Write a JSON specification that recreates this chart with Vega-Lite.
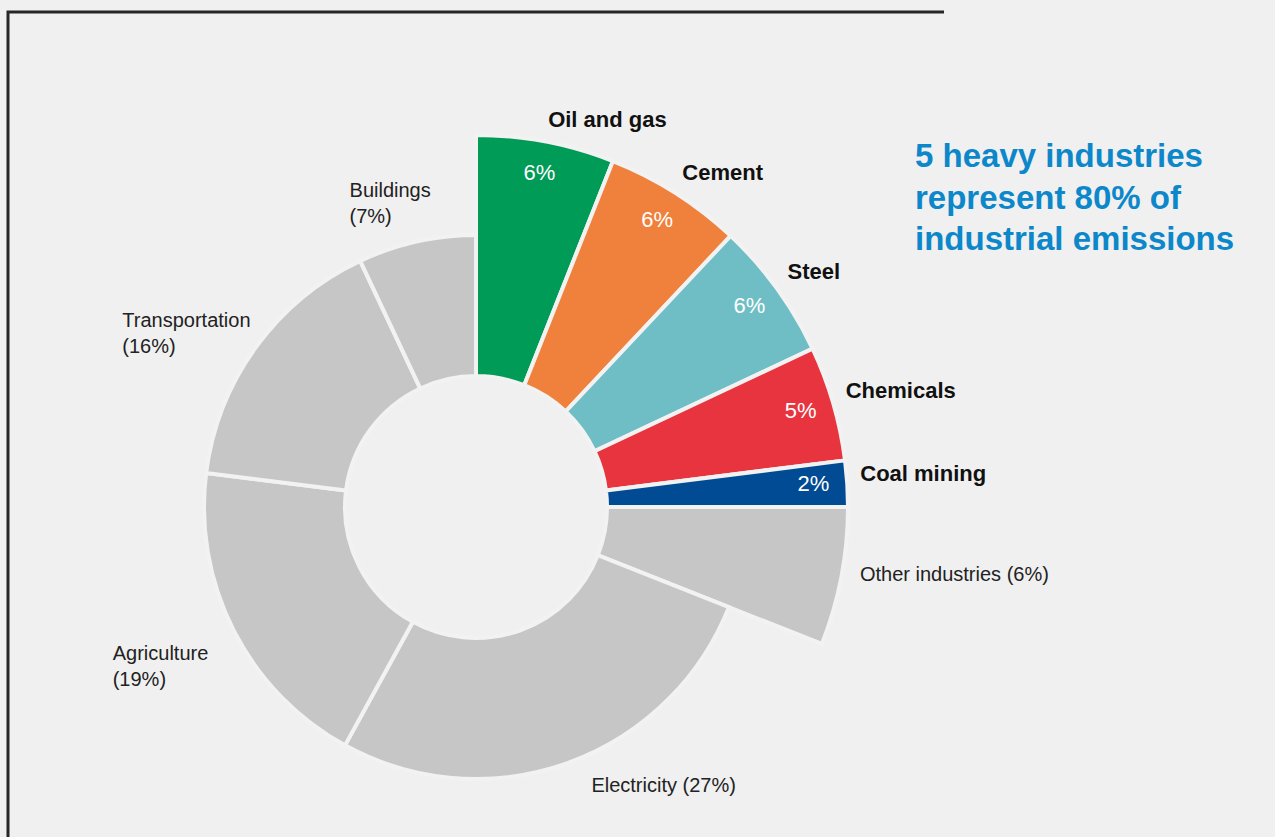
{
  "$schema": "https://vega.github.io/schema/vega-lite/v6.json",
  "width": 936,
  "height": 990,
  "autosize": {"type": "none"},
  "padding": {"left": 8, "top": 12, "right": 331, "bottom": 0},
  "background": "#f0f0f0",
  "view": {"stroke": "#262626", "strokeWidth": 3, "strokeDash": [936, 1926, 990]},
  "config": {
    "font": "Liberation Sans"
  },
  "title": {
    "text": ["5 heavy industries", "represent 80% of", "industrial emissions"],
    "orient": "top",
    "anchor": "start",
    "frame": "group",
    "offset": 0,
    "baseline": "top",
    "align": "left",
    "dx": 907,
    "dy": 245,
    "fontSize": 33,
    "fontWeight": "bold",
    "lineHeight": 41.5,
    "color": "#0b87ca",
    "font": "Liberation Sans"
  },
  "data": {
    "values": [
      {"name": "Oil and gas", "value": 6, "sector": "Industry", "heavy": true},
      {"name": "Cement", "value": 6, "sector": "Industry", "heavy": true},
      {"name": "Steel", "value": 6, "sector": "Industry", "heavy": true},
      {"name": "Chemicals", "value": 5, "sector": "Industry", "heavy": true},
      {"name": "Coal mining", "value": 2, "sector": "Industry", "heavy": true},
      {"name": "Other industries", "value": 6, "sector": "Industry", "heavy": false},
      {"name": "Electricity", "value": 27, "sector": "Other sectors", "heavy": false},
      {"name": "Agriculture", "value": 19, "sector": "Other sectors", "heavy": false},
      {"name": "Transportation", "value": 16, "sector": "Other sectors", "heavy": false},
      {"name": "Buildings", "value": 7, "sector": "Other sectors", "heavy": false}
    ]
  },
  "transform": [
    {"stack": "value", "groupby": [], "as": ["v0", "v1"]},
    {"calculate": "(datum.v0 + datum.v1) / 2", "as": "mid"},
    {"calculate": "datum.value + '%'", "as": "pct"},
    {"calculate": "datum.name + '\\n(' + datum.value + '%)'", "as": "label2"},
    {"calculate": "datum.name + ' (' + datum.value + '%)'", "as": "label1"}
  ],
  "layer": [
    {
      "mark": {"type": "arc", "stroke": "#f2f2f2", "strokeWidth": 4},
      "encoding": {
        "theta": {"field": "v0", "type": "quantitative", "scale": {"domain": [0, 100]}},
        "theta2": {"field": "v1"},
        "radius": {"field": "sector", "type": "nominal", "scale": {"type": "point", "domain": ["Other sectors", "Industry"], "range": [272, 372], "padding": 0}},
        "radius2": {"value": 131},
        "color": {
          "field": "name",
          "type": "nominal",
          "scale": {
            "domain": ["Oil and gas", "Cement", "Steel", "Chemicals", "Coal mining", "Other industries", "Electricity", "Agriculture", "Transportation", "Buildings"],
            "range": ["#009b57", "#f0813d", "#6fbec5", "#e8343f", "#004b93", "#c6c6c6", "#c6c6c6", "#c6c6c6", "#c6c6c6", "#c6c6c6"]
          },
          "legend": null
        }
      }
    },
    {
      "transform": [{"filter": "datum.heavy"}],
      "mark": {"type": "text", "radius": 338, "dy": -2, "fill": "#ffffff", "fontSize": 22, "align": "center", "baseline": "middle"},
      "encoding": {
        "theta": {"field": "mid", "type": "quantitative", "scale": {"domain": [0, 100]}},
        "text": {"field": "pct"}
      }
    },
    {
      "transform": [{"filter": "datum.heavy"}],
      "mark": {"type": "text", "radius": 385, "dy": -9, "fill": "#111111", "fontSize": 22, "fontWeight": "bold", "align": "left", "baseline": "middle"},
      "encoding": {
        "theta": {"field": "mid", "type": "quantitative", "scale": {"domain": [0, 100]}},
        "text": {"field": "name"}
      }
    },
    {
      "transform": [{"filter": "datum.name == 'Buildings'"}],
      "mark": {"type": "text", "radius": 300, "dx": -61, "dy": -23, "fill": "#222222", "fontSize": 20, "lineHeight": 26, "lineBreak": "\n", "align": "left", "baseline": "middle"},
      "encoding": {
        "theta": {"field": "mid", "type": "quantitative", "scale": {"domain": [0, 100]}},
        "text": {"field": "label2"}
      }
    },
    {
      "transform": [{"filter": "datum.name == 'Transportation'"}],
      "mark": {"type": "text", "radius": 300, "dx": -111, "dy": -10, "fill": "#222222", "fontSize": 20, "lineHeight": 26, "lineBreak": "\n", "align": "left", "baseline": "middle"},
      "encoding": {
        "theta": {"field": "mid", "type": "quantitative", "scale": {"domain": [0, 100]}},
        "text": {"field": "label2"}
      }
    },
    {
      "transform": [{"filter": "datum.name == 'Agriculture'"}],
      "mark": {"type": "text", "radius": 300, "dx": -96, "dy": 11, "fill": "#222222", "fontSize": 20, "lineHeight": 26, "lineBreak": "\n", "align": "left", "baseline": "middle"},
      "encoding": {
        "theta": {"field": "mid", "type": "quantitative", "scale": {"domain": [0, 100]}},
        "text": {"field": "label2"}
      }
    },
    {
      "transform": [{"filter": "datum.name == 'Electricity'"}],
      "mark": {"type": "text", "radius": 300, "dx": 86, "dy": -3, "fill": "#222222", "fontSize": 20, "align": "center", "baseline": "middle"},
      "encoding": {
        "theta": {"field": "mid", "type": "quantitative", "scale": {"domain": [0, 100]}},
        "text": {"field": "label1"}
      }
    },
    {
      "transform": [{"filter": "datum.name == 'Other industries'"}],
      "mark": {"type": "text", "radius": 400, "dx": -9, "dy": -7, "fill": "#222222", "fontSize": 20, "align": "left", "baseline": "middle"},
      "encoding": {
        "theta": {"field": "mid", "type": "quantitative", "scale": {"domain": [0, 100]}},
        "text": {"field": "label1"}
      }
    }
  ]
}
